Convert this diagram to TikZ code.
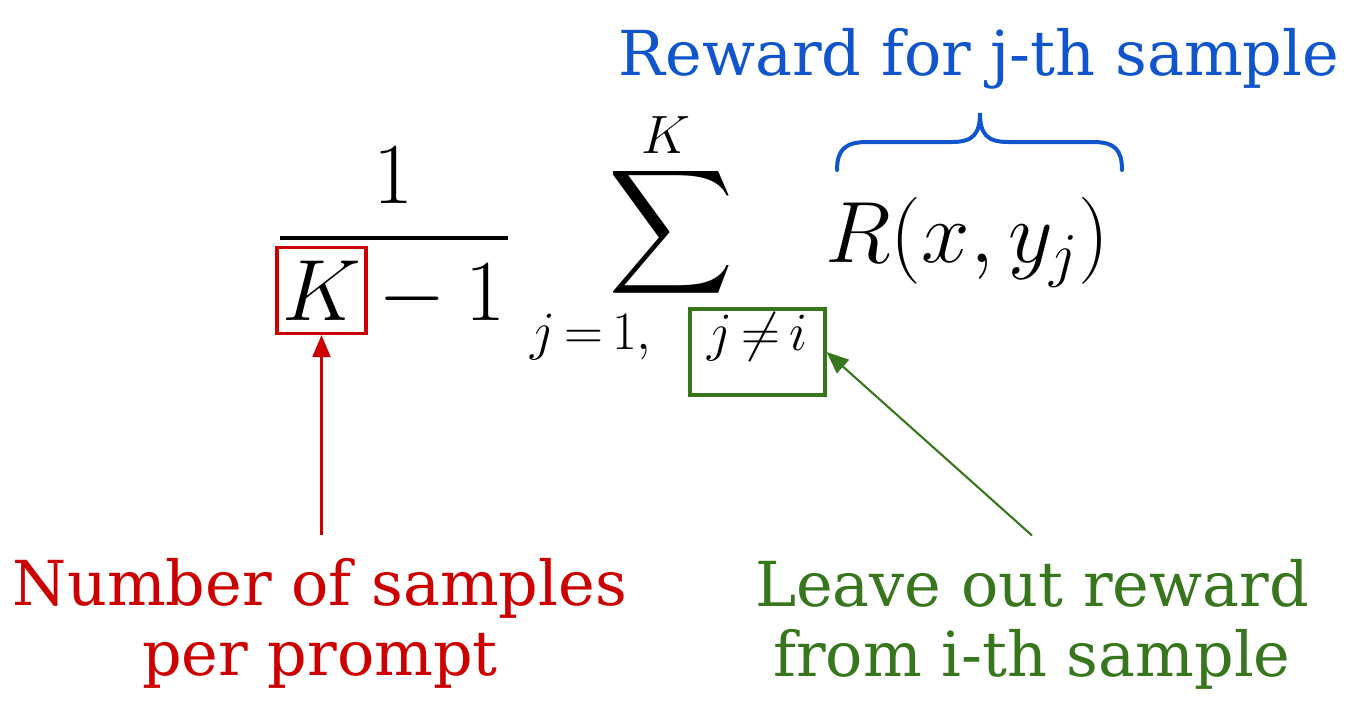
\RequirePackage{fix-cm}
\documentclass[tikz,border=0pt]{standalone}
\usepackage{fontspec}
\usepackage{xcolor}
\usepackage{tikz}
\usetikzlibrary{arrows.meta}

% big operators at any size
\DeclareFontShape{OMX}{cmex}{m}{n}{<-> cmex10}{}
\newfontfamily\notefont{DejaVu Serif}
\definecolor{rewblue}{HTML}{1155CC}
\definecolor{cntred}{HTML}{CC0000}
\definecolor{lvgreen}{HTML}{38761D}

\begin{document}
\begin{tikzpicture}[
    x=0.5pt, y=-0.5pt,
    note/.style={inner sep=0pt, align=center,
                 font=\notefont\fontsize{31}{35}\selectfont},
    mbig/.style={inner sep=0pt, font=\fontsize{43.5}{52}\selectfont},
    msml/.style={inner sep=0pt, font=\fontsize{27}{32}\selectfont},
    hl/.style={draw, line width=1.6pt, inner sep=0pt},
    ptr/.style={-{Triangle[length=11pt,width=9pt]}, line width=1.05pt},
    brc/.style={draw=rewblue, line width=2pt, line cap=round},
  ]
  \useasboundingbox (0,0) rectangle (1362,718);

  %% ---- fraction 1/(K-1) --------------------------------------------
  \node[mbig, anchor=base] (num) at (393,203) {$1$};
  \draw[line width=1.75pt] (280,238) -- (508,238);
  \node[mbig, hl, draw=cntred, minimum width=44.5pt, minimum height=43pt]
    (Kbox) at (321.5,290.5) {$K$};
  \node[mbig, anchor=base west] (less) at (359,320) {${}-1$};

  %% ---- sum with its limits -----------------------------------------
  \node[mbig] (sum) at (671.5,232.5) {$\displaystyle\sum$};
  \node[msml, anchor=base west] (upper) at (641,153) {$K$};
  \node[msml, anchor=base west] (lower) at (530,349) {$j\,{=}\,1,$};
  \node[msml, hl, draw=lvgreen, minimum width=67.5pt, minimum height=43pt,
        text height=14pt, text depth=16pt]
    (jbox) at (757.5,352) {$j\,{\neq}\,i$};

  %% ---- reward term -------------------------------------------------
  \node[mbig, anchor=base west] (rew) at (825,262) {$R(x,y_j)$};
  \draw[brc] (837,170) .. controls (837,150) and (845,142) .. (867,142)
    -- (952,142) .. controls (973,142) and (980,134) .. (980,113)
    .. controls (980,134) and (987,142) .. (1008,142)
    -- (1093,142) .. controls (1115,142) and (1122,150) .. (1122,170);

  %% ---- annotations -------------------------------------------------
  \node[note, text=rewblue, anchor=base] (rewtxt) at (979,75)
    {Reward for j-th sample};
  \node[note, text=cntred, anchor=base] (cnt) at (320,675)
    {Number of samples\\per prompt};
  \node[note, text=lvgreen, anchor=base] (leave) at (1032,676)
    {Leave out reward\\from i-th sample};

  \draw[ptr, cntred] ([yshift=11.5pt]Kbox.south |- cnt.north) -- (Kbox.south);
  \draw[ptr, lvgreen] ([yshift=11.5pt]leave.north) -- (jbox.east);

\end{tikzpicture}
\end{document}
